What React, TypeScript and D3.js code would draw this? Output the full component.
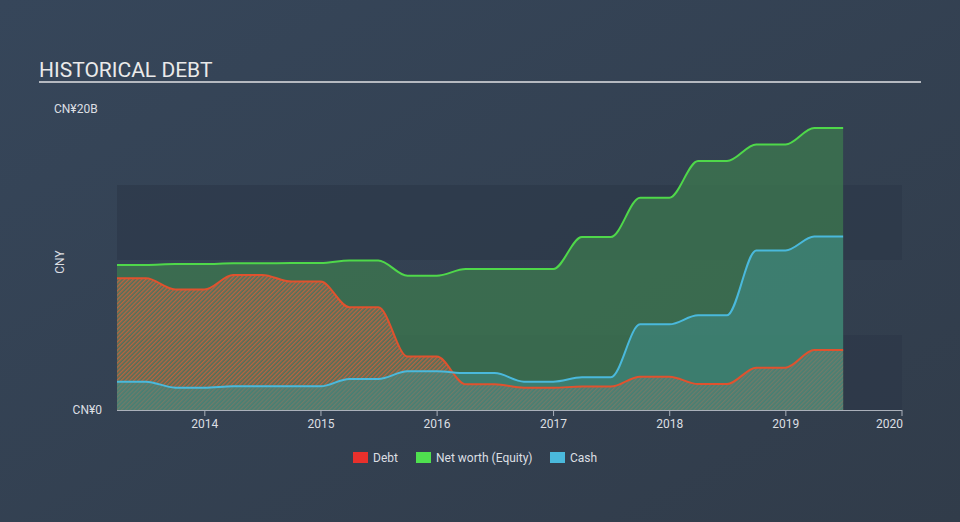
import React from "react";
import * as d3 from "d3";

const quarters = [
  "2013-03-31", "2013-06-30", "2013-09-30", "2013-12-31",
  "2014-03-31", "2014-06-30", "2014-09-30", "2014-12-31",
  "2015-03-31", "2015-06-30", "2015-09-30", "2015-12-31",
  "2016-03-31", "2016-06-30", "2016-09-30", "2016-12-31",
  "2017-03-31", "2017-06-30", "2017-09-30", "2017-12-31",
  "2018-03-31", "2018-06-30", "2018-09-30", "2018-12-31",
  "2019-03-31", "2019-06-30",
];
// values in CN¥ billions
const debt = [
  8.78, 8.78, 8.04, 8.04, 9.0, 9.0, 8.56, 8.56, 6.85, 6.85, 3.56, 3.56,
  1.71, 1.71, 1.49, 1.49, 1.56, 1.56, 2.22, 2.22, 1.73, 1.73, 2.82, 2.82,
  4.0, 4.0,
];
const netWorth = [
  9.67, 9.67, 9.73, 9.73, 9.78, 9.78, 9.8, 9.8, 9.97, 9.97, 8.95, 8.95,
  9.4, 9.4, 9.4, 9.4, 11.53, 11.53, 14.15, 14.15, 16.6, 16.6, 17.7, 17.7,
  18.8, 18.8,
];
const cash = [
  1.89, 1.89, 1.49, 1.49, 1.58, 1.58, 1.58, 1.58, 2.07, 2.07, 2.58, 2.58,
  2.46, 2.46, 1.89, 1.89, 2.18, 2.18, 5.71, 5.71, 6.31, 6.31, 10.64, 10.64,
  11.56, 11.56,
];
const xTicks = ["2014", "2015", "2016", "2017", "2018", "2019", "2020"];
const yTickLabels = ["CN¥0", "CN¥20B"];
const legendItems = [
  { name: "Debt", color: "#e8302c" },
  { name: "Net worth (Equity)", color: "#4fe04f" },
  { name: "Cash", color: "#4ab9dc" },
];

const W = 960;
const H = 522;
const FONT = "Roboto, 'Open Sans', sans-serif";

export default function App() {
  const parse = d3.timeParse("%Y-%m-%d");
  const dates = quarters.map((q) => parse(q) as Date);
  const x = d3
    .scaleTime()
    .domain([dates[0], new Date(2020, 0, 1)])
    .range([117, 902]);
  const y = d3.scaleLinear().domain([0, 20]).range([410, 110]);

  const mk = (vals: number[]) => vals.map((v, i) => ({ d: dates[i], v }));
  const area = d3
    .area<{ d: Date; v: number }>()
    .x((p) => x(p.d))
    .y0(y(0))
    .y1((p) => y(p.v))
    .curve(d3.curveMonotoneX);
  const line = d3
    .line<{ d: Date; v: number }>()
    .x((p) => x(p.d))
    .y((p) => y(p.v))
    .curve(d3.curveMonotoneX);

  const nw = mk(netWorth);
  const ca = mk(cash);
  const de = mk(debt);

  const bands = [
    [15, 10],
    [5, 0],
  ];

  return (
    <svg
      width={W}
      height={H}
      style={{ position: "absolute", left: 0, top: 0 }}
      fontFamily={FONT}
    >
      <defs>
        <linearGradient id="bg" x1="0" y1="0" x2="1" y2="1">
          <stop offset="0%" stopColor="#36465a" />
          <stop offset="100%" stopColor="#313c4a" />
        </linearGradient>
        <pattern
          id="hatch"
          patternUnits="userSpaceOnUse"
          width="3"
          height="3"
          patternTransform="rotate(45)"
        >
          <rect width="3" height="3" fill="rgba(130,130,120,0.3)" />
          <rect width="1.4" height="3" fill="rgba(220,95,55,0.75)" />
        </pattern>
      </defs>
      <rect width={W} height={H} fill="url(#bg)" />

      {/* title */}
      <text x={39} y={77} fill="#eaeaea" fontSize={21}>
        HISTORICAL DEBT
      </text>
      <line x1={39} x2={921} y1={82} y2={82} stroke="#b5b9c0" strokeWidth={2} />

      {/* bands */}
      {bands.map(([a, b], i) => (
        <rect
          key={i}
          x={117}
          y={y(a)}
          width={902 - 117}
          height={y(b) - y(a)}
          fill="#2c3747"
          opacity={0.6}
        />
      ))}

      {/* areas */}
      <path d={area(nw) || ""} fill="#3d7a4f" opacity={0.75} />
      <path d={area(de) || ""} fill="url(#hatch)" />
      <path d={area(ca) || ""} fill="#3f8a86" opacity={0.6} />

      {/* lines */}
      <path d={line(de) || ""} fill="none" stroke="#e0522e" strokeWidth={2} />
      <path d={line(ca) || ""} fill="none" stroke="#4ab9dc" strokeWidth={2} />
      <path d={line(nw) || ""} fill="none" stroke="#4fd84a" strokeWidth={2} />

      {/* axis */}
      <line x1={117} x2={902} y1={410.5} y2={410.5} stroke="#aab0ba" strokeWidth={1} />
      {xTicks.map((t) => {
        const xx = x(new Date(+t, 0, 1));
        return (
          <g key={t}>
            <line x1={xx} x2={xx} y1={410} y2={416} stroke="#aab0ba" />
            <text
              x={xx}
              y={428}
              fill="#dcdfe3"
              fontSize={12}
              textAnchor={t === "2020" ? "end" : "middle"}
              dx={t === "2020" ? 1 : 0}
            >
              {t}
            </text>
          </g>
        );
      })}

      {/* y labels */}
      <text x={54} y={113} fill="#dcdfe3" fontSize={12}>
        {yTickLabels[1]}
      </text>
      <text x={102} y={414} fill="#dcdfe3" fontSize={12} textAnchor="end">
        {yTickLabels[0]}
      </text>
      <text
        transform="translate(64,262) rotate(-90)"
        fill="#dcdfe3"
        fontSize={12}
        textAnchor="middle"
      >
        CNY
      </text>

      {/* legend */}
      {(() => {
        const xs = [353, 416, 550];
        return legendItems.map((it, i) => (
          <g key={it.name}>
            <rect x={xs[i]} y={452} width={15} height={11} fill={it.color} />
            <text x={xs[i] + 20} y={461.5} fill="#dcdfe3" fontSize={12}>
              {it.name}
            </text>
          </g>
        ));
      })()}
    </svg>
  );
}
